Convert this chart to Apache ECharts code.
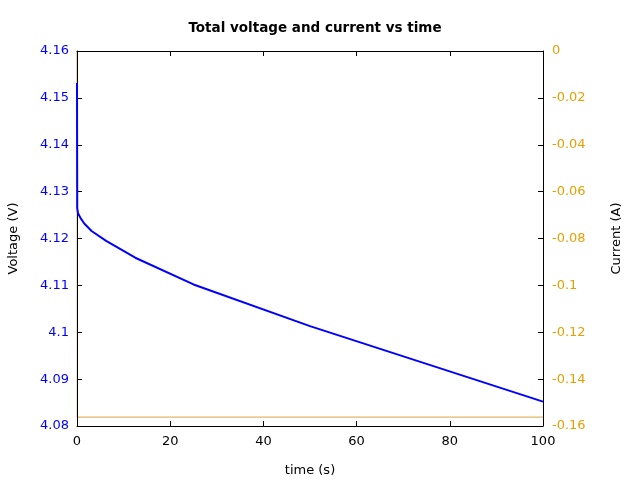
<!DOCTYPE html>
<html><head><meta charset="utf-8">
<script src="https://cdn.jsdelivr.net/npm/echarts@6/dist/echarts.min.js"></script>
<style>html,body{margin:0;padding:0;background:#fff}#c{width:640px;height:480px}</style>
</head><body><div id="c"></div>
<script>
const timeVoltage = [0, 0.05, 0.2, 0.4, 0.8, 1.56, 3.125, 6.25, 12.5, 25, 50, 100];
const voltage = [4.1532, 4.1265, 4.1255, 4.1250, 4.1243, 4.1232, 4.1216, 4.1195, 4.1159, 4.1102, 4.1013, 4.0852];
const timeCurrent = [0, 0.05, 100];
const current = [0, -0.1562, -0.1562];
const xTicks = [0, 20, 40, 60, 80, 100];

const chart = echarts.init(document.getElementById('c'), null, {renderer: 'canvas'});
const font = 'DejaVu Sans';
chart.setOption({
  animation: false,
  title: {text: 'Total voltage and current vs time', left: 310, textAlign: 'center', top: 16,
    textStyle: {fontFamily: font, fontSize: 13.5, fontWeight: 'bold', color: '#000'}},
  grid: {left: 77, right: 97, top: 51, bottom: 54, containLabel: false, outerBoundsMode: 'none'},
  xAxis: [{
    type: 'value', min: xTicks[0], max: xTicks[xTicks.length-1], interval: 20, position: 'bottom', z: 1,
    name: 'time (s)', nameLocation: 'middle', nameGap: 38,
    nameTextStyle: {fontFamily: font, fontSize: 13, color: '#000'},
    axisLine: {show: true, onZero: false, lineStyle: {color: '#000', width: 1}},
    axisTick: {inside: true, length: 5, lineStyle: {color: '#000'}},
    axisLabel: {fontFamily: font, fontSize: 13, color: '#000', margin: 9},
    splitLine: {show: false}
  }, {
    type: 'value', min: 0, max: 100, interval: 20, position: 'top', z: 1,
    axisLine: {show: true, onZero: false, lineStyle: {color: '#000', width: 1}},
    axisTick: {inside: true, length: 5, lineStyle: {color: '#000'}},
    axisLabel: {show: false}, splitLine: {show: false}
  }],
  yAxis: [{
    type: 'value', min: 4.08, max: 4.16, interval: 0.01, position: 'left', z: 1,
    name: 'Voltage (V)', nameLocation: 'middle', nameGap: 57,
    nameTextStyle: {fontFamily: font, fontSize: 13, color: '#000'},
    axisLine: {show: true, onZero: false, lineStyle: {color: '#000', width: 1}},
    axisTick: {inside: true, length: 5, lineStyle: {color: '#000'}},
    axisLabel: {fontFamily: font, fontSize: 13, color: '#0000ff', margin: 8},
    splitLine: {show: false}
  }, {
    type: 'value', min: -0.16, max: 0, interval: 0.02, position: 'right', z: 1,
    name: 'Current (A)', nameLocation: 'middle', nameGap: 67,
    nameTextStyle: {fontFamily: font, fontSize: 13, color: '#000'},
    axisLine: {show: true, onZero: false, lineStyle: {color: '#000', width: 1}},
    axisTick: {inside: true, length: 5, lineStyle: {color: '#000'}},
    axisLabel: {fontFamily: font, fontSize: 13, color: '#e69f00', margin: 9},
    splitLine: {show: false}
  }],
  series: [{
    type: 'line', yAxisIndex: 1, showSymbol: false,
    data: timeCurrent.map((t, i) => [t, current[i]]),
    lineStyle: {color: '#d9a441', width: 1}, z: 0
  }, {
    type: 'line', yAxisIndex: 0, showSymbol: false,
    data: timeVoltage.map((t, i) => [t, voltage[i]]),
    lineStyle: {color: '#0000ff', width: 2}, z: 3
  }]
});
</script></body></html>
